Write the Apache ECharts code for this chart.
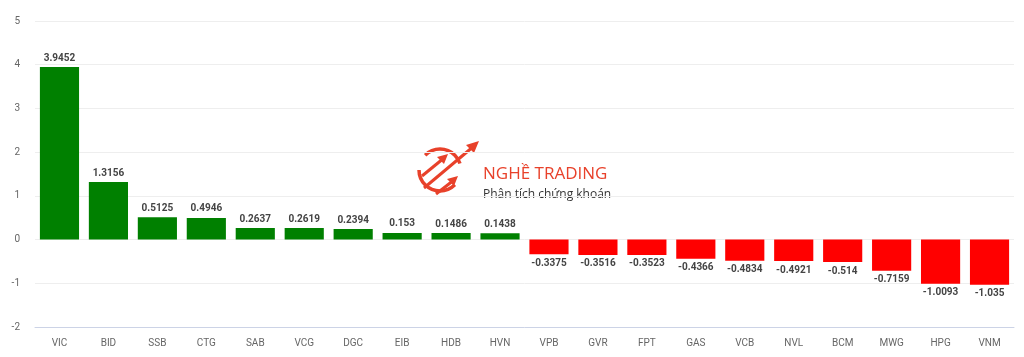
<!DOCTYPE html>
<html><head><meta charset="utf-8">
<script src="https://cdn.jsdelivr.net/npm/echarts@6/dist/echarts.min.js"></script>
<style>html,body{margin:0;padding:0;background:#fff}#c{width:1024px;height:357px}</style>
</head><body><div id="c"></div>
<script>
const categories = ['VIC','BID','SSB','CTG','SAB','VCG','DGC','EIB','HDB','HVN','VPB','GVR','FPT','GAS','VCB','NVL','BCM','MWG','HPG','VNM'];
const values = [3.9452,1.3156,0.5125,0.4946,0.2637,0.2619,0.2394,0.153,0.1486,0.1438,-0.3375,-0.3516,-0.3523,-0.4366,-0.4834,-0.4921,-0.514,-0.7159,-1.0093,-1.035];
const yTicks = [-2,-1,0,1,2,3,4,5];

const chart = echarts.init(document.getElementById('c'));
const red = '#e8412a';
chart.setOption({
  animation:false,
  textStyle:{fontFamily:'Roboto'},
  grid:{left:35,right:10,top:21,bottom:30,containLabel:false},
  xAxis:{type:'category',data:categories,
    axisLine:{onZero:false,lineStyle:{color:'#ccd3e6'}},axisTick:{show:false},
    axisLabel:{color:'#666',fontSize:10,margin:11}},
  yAxis:{type:'value',min:yTicks[0],max:yTicks[yTicks.length-1],interval:1,
    axisLine:{show:false},axisTick:{show:false},
    splitLine:{lineStyle:{color:'#eeeeee'}},
    axisLabel:{color:'#666',fontSize:10,margin:15}},
  series:[{type:'bar',barWidth:'80%',
    data:values.map(v=>({value:v,itemStyle:{color:v>=0?'#008000':'#ff0000'},
      label:{show:true,position:v>=0?'top':'bottom',distance:4,formatter:String(v),color:'#444',fontSize:10,fontWeight:'bold'}}))
  }],
  graphic:[
      {type:'arc',silent:true,shape:{cx:440,cy:170,r:21,startAngle:Math.PI*0.25,endAngle:Math.PI*1.0},style:{stroke:red,lineWidth:3.5,fill:null}},
      {type:'arc',silent:true,shape:{cx:440,cy:170,r:21,startAngle:Math.PI*1.25,endAngle:Math.PI*1.9},style:{stroke:red,lineWidth:3.5,fill:null}},
      {type:'line',silent:true,shape:{x1:424,y1:188,x2:474,y2:146},style:{stroke:red,lineWidth:3}},
      {type:'polygon',silent:true,shape:{points:[[479,141],[466,145],[474,153]]},style:{fill:red}},
      {type:'line',silent:true,shape:{x1:422,y1:176,x2:444,y2:158},style:{stroke:red,lineWidth:3}},
      {type:'polygon',silent:true,shape:{points:[[448,154],[437,157],[444,164]]},style:{fill:red}},
      {type:'line',silent:true,shape:{x1:436,y1:194,x2:454,y2:180},style:{stroke:red,lineWidth:3}},
      {type:'polygon',silent:true,shape:{points:[[458,176],[447,179],[454,186]]},style:{fill:red}},
      {type:'text',silent:true,x:483,y:166,style:{text:'NGHỀ TRADING',fill:red,font:'17px "Open Sans"'}},
      {type:'text',silent:true,x:483,y:189,style:{text:'Phân tích chứng khoán',fill:'#333',font:'12px "Open Sans"'}}
  ]
});
</script></body></html>
